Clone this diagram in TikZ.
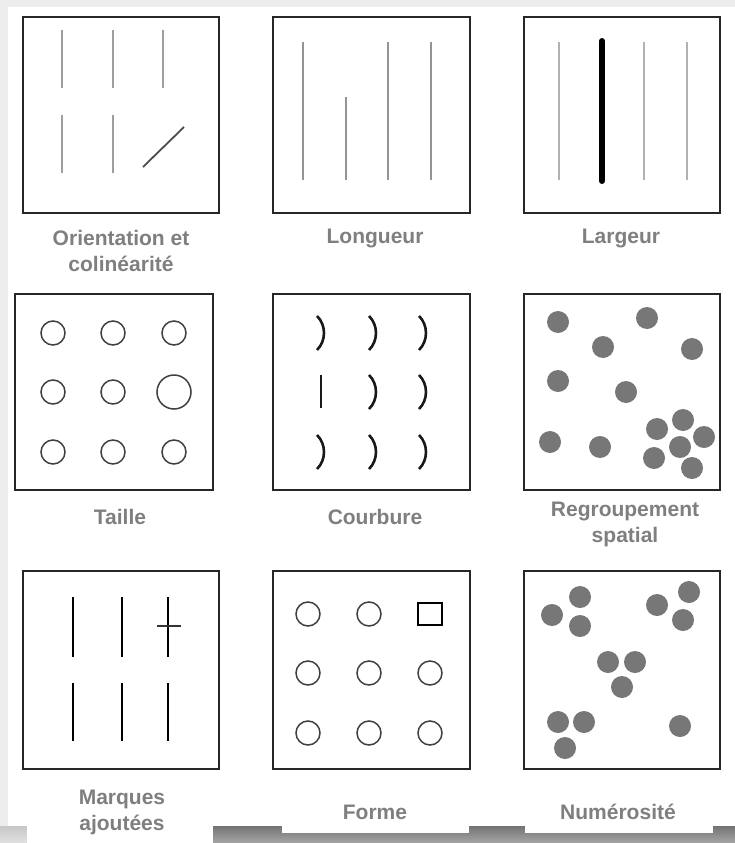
\documentclass[tikz,border=0pt]{standalone}
\usepackage{fontspec}
\setmainfont{Liberation Sans}
\usepackage{xcolor}
\usepackage{tikz}

\definecolor{lblgray}{HTML}{7F7F7F}
\definecolor{dotgray}{HTML}{777777}

\begin{document}
\begin{tikzpicture}[x=1pt,y=-1pt,
    panel/.style={draw=black!85,line width=1.6pt},
    lbl/.style={text=lblgray,font=\fontsize{21}{26}\selectfont\bfseries,align=center},
    ring/.style={draw=black!75,line width=1.5pt},
    dot/.style={fill=dotgray}]
    \useasboundingbox (0,0) rectangle (735,843);
    % card and bottom bar
    \fill[black!7] (0,0) rectangle (735,843);
    \fill[white] (8,7) rectangle (735,826);
    \shade[top color=black!55,bottom color=black!35] (27,826) rectangle (735,843);
    \shade[top color=black!22,bottom color=black!12] (0,826) rectangle (27,843);
    \fill[white] (27,820) rectangle (213,843);
    \fill[white] (282,820) rectangle (469,833);
    \fill[white] (525,820) rectangle (713,833);

    % orientation
    \draw[panel] (23,17) rectangle (219,213);
    \foreach \x in {62,113,163} \draw[black!38,line width=2.2pt] (\x,30) -- (\x,88);
    \foreach \x in {62,113} \draw[black!38,line width=2.2pt] (\x,115) -- (\x,173);
    \draw[black!70,line width=1.8pt] (143,167) -- (184,127);
    \node[lbl] (orient) at (121,251) {Orientation et\\colinéarité};

    % longueur
    \draw[panel] (273,17) rectangle (470,213);
    \foreach \x in {303,388,431} \draw[black!42,line width=2pt] (\x,42) -- (\x,180);
    \draw[black!42,line width=2pt] (346,97) -- (346,180);
    \node[lbl] (longueur) at (375,238) {Longueur};

    % largeur
    \draw[panel] (524,17) rectangle (720,213);
    \foreach \x in {559,644,687} \draw[black!30,line width=2pt] (\x,42) -- (\x,180);
    \draw[black,line width=6pt,line cap=round] (602,41) -- (602,181);
    \node[lbl] (largeur) at (621,238) {Largeur};

    % taille
    \draw[panel] (15,294) rectangle (213,490);
    \foreach \x in {53,113,174} \foreach \y in {333,452} \draw[ring] (\x,\y) circle (12);
    \foreach \x in {53,113} \draw[ring] (\x,392) circle (12);
    \draw[ring] (174,392) circle (17);
    \node[lbl] (taille) at (120,517) {Taille};

    % courbure
    \draw[panel] (273,294) rectangle (470,490);
    \foreach \x/\y in {320/333,372/333,422/333,372/392,422/392,320/452,372/452,422/452}
      \draw[black!90,line width=2.6pt] (\x-3,\y-17) .. controls (\x+6.3,\y-8) and (\x+6.3,\y+8) .. (\x-3,\y+17);
    \draw[black!90,line width=2.6pt] (321,375) -- (321,408);
    \node[lbl] (courbure) at (375,517) {Courbure};

    % regroupement
    \draw[panel] (524,294) rectangle (720,490);
    \foreach \x/\y in {558/322,647/318,603/347,692/349,558/381,626/392,550/442,600/447,
                       657/429,683/420,704/437,680/447,654/458,692/468}
      \fill[dot] (\x,\y) circle (11);
    \node[lbl] (groupe) at (625,524) {Regroupement\\spatial};

    % marques
    \draw[panel] (23,571) rectangle (219,769);
    \foreach \x in {73,122,168} {
      \draw[black,line width=1.6pt] (\x,597) -- (\x,657);
      \draw[black,line width=1.6pt] (\x,683) -- (\x,741);
    }
    \draw[black!80,line width=1.4pt] (157,626) -- (181,626);
    \node[lbl] (marques) at (122,812) {Marques\\ajoutées};

    % forme
    \draw[panel] (273,571) rectangle (470,769);
    \foreach \x in {308,369,430} \foreach \y in {673,733} \draw[ring] (\x,\y) circle (12);
    \foreach \x in {308,369} \draw[ring] (\x,614) circle (12);
    \draw[black,line width=1.5pt] (418,603) rectangle (442,625);
    \node[lbl] (forme) at (375,812) {Forme};

    % numerosite
    \draw[panel] (524,571) rectangle (720,769);
    \foreach \x/\y in {580/597,552/615,580/626,689/592,657/605,683/620,608/662,
                       635/662,622/687,558/722,584/722,565/748,680/726}
      \fill[dot] (\x,\y) circle (11);
    \node[lbl] (numero) at (618,812) {Numérosité};
\end{tikzpicture}
\end{document}
